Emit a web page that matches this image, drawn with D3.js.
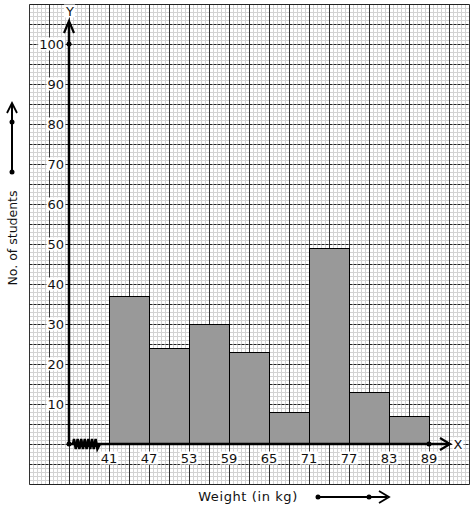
<!DOCTYPE html>
<html>
<head>
<meta charset="utf-8">
<script src="https://cdn.jsdelivr.net/npm/d3@7"></script>
<style>
  body { margin: 0; background: #fff; }
  text { font-family: "DejaVu Sans", sans-serif; fill: #111; }
</style>
</head>
<body>
<div class="container"></div>
<script>
// histogram data: class intervals (kg) and frequency
var lowerBounds = [41, 47, 53, 59, 65, 71, 77, 83];
var upperBounds = [47, 53, 59, 65, 71, 77, 83, 89];
var students = [37, 24, 30, 23, 8, 49, 13, 7];
var xTickLabels = [41, 47, 53, 59, 65, 71, 77, 83, 89];
var yTickLabels = [10, 20, 30, 40, 50, 60, 70, 80, 90, 100];

var svgWidth = 474;
var svgHeight = 510;

var svg = d3.select(".container")
  .append("svg")
  .attr("width", svgWidth)
  .attr("height", svgHeight);

// scales: 6 kg = 40px, 10 students = 40px, origin at (69,444)
var x = d3.scaleLinear().domain([35, 89]).range([69, 429]);
var y = d3.scaleLinear().domain([0, 100]).range([444, 44]);

var g = svg.append("g").attr("transform", "translate(0.5,0.5)");

//********************* graph paper grid *********************
var gx0 = 29, gx1 = 95, gy0 = -10, gy1 = 110;

// minor lines (every 0.6 kg / every 1 student)
var minorX = d3.range(0, 111).map(i => gx0 + i * 0.6);
var minorY = d3.range(0, 121).map(i => gy0 + i);

g.append("g").selectAll("line")
  .data(minorX).enter().append("line")
  .attr("x1", d => Math.round(x(d))).attr("x2", d => Math.round(x(d)))
  .attr("y1", y(gy1)).attr("y2", y(gy0))
  .attr("stroke", "#d2d2d2").attr("stroke-width", 1);

g.append("g").selectAll("line")
  .data(minorY).enter().append("line")
  .attr("y1", d => Math.round(y(d))).attr("y2", d => Math.round(y(d)))
  .attr("x1", x(gx0)).attr("x2", x(gx1))
  .attr("stroke", "#d2d2d2").attr("stroke-width", 1);

// major lines (every 3 kg / every 5 students)
var majorX = d3.range(0, 23).map(i => gx0 + i * 3);
var majorY = d3.range(0, 25).map(i => gy0 + i * 5);

g.append("g").selectAll("line")
  .data(majorX).enter().append("line")
  .attr("x1", d => Math.round(x(d))).attr("x2", d => Math.round(x(d)))
  .attr("y1", y(gy1)).attr("y2", y(gy0))
  .attr("stroke", "#333").attr("stroke-width", 1);

g.append("g").selectAll("line")
  .data(majorY).enter().append("line")
  .attr("y1", d => Math.round(y(d))).attr("y2", d => Math.round(y(d)))
  .attr("x1", x(gx0)).attr("x2", x(gx1))
  .attr("stroke", "#222").attr("stroke-width", 1)
  .attr("stroke-dasharray", (d, i) => (i === 0 || i === 24) ? null : "3,1");

//********************* bars *********************
g.append("g").selectAll("rect")
  .data(students).enter().append("rect")
  .attr("x", (d, i) => x(lowerBounds[i]))
  .attr("y", d => y(d))
  .attr("width", (d, i) => x(upperBounds[i]) - x(lowerBounds[i]))
  .attr("height", d => y(0) - y(d))
  .attr("fill", "#999")
  .attr("stroke", "#000")
  .attr("stroke-width", 1);

//********************* axes *********************
var axes = svg.append("g");

// y axis with arrow
axes.append("line")
  .attr("x1", x(35)).attr("x2", x(35))
  .attr("y1", y(0)).attr("y2", 22)
  .attr("stroke", "#000").attr("stroke-width", 2.5);
axes.append("path")
  .attr("d", `M${x(35) - 5},33 L${x(35)},21 L${x(35) + 5},33`)
  .attr("fill", "none").attr("stroke", "#000").attr("stroke-width", 2.2);

// x axis with arrow
axes.append("line")
  .attr("x1", x(35)).attr("x2", 449)
  .attr("y1", y(0)).attr("y2", y(0))
  .attr("stroke", "#000").attr("stroke-width", 2.5);
axes.append("path")
  .attr("d", `M440,${y(0) - 6} L450,${y(0)} L440,${y(0) + 6}`)
  .attr("fill", "none").attr("stroke", "#000").attr("stroke-width", 2.2);

// kink (broken axis) between origin and 41
var kink = [[x(35) + 4, y(0)]];
for (var k = 0; k < 14; k++) {
  kink.push([x(35) + 5 + k * 1.8, y(0) + (k % 2 === 0 ? -5 : 5)]);
}
kink.push([x(35) + 31, y(0)]);
axes.append("path")
  .attr("d", d3.line()(kink))
  .attr("fill", "none").attr("stroke", "#000").attr("stroke-width", 2.5);

// dots
axes.selectAll("circle.pt")
  .data([[x(35), y(0)], [x(35), y(100)], [x(89), y(0)]])
  .enter().append("circle")
  .attr("cx", d => d[0]).attr("cy", d => d[1])
  .attr("r", 2.5).attr("fill", "#000");

//********************* tick labels with white backgrounds *********************
function labelWithBg(parent, tx, ty, str, anchor) {
  var grp = parent.append("g");
  var rect = grp.append("rect").attr("fill", "#fff");
  var t = grp.append("text")
    .attr("x", tx).attr("y", ty)
    .attr("text-anchor", anchor)
    .attr("dominant-baseline", "central")
    .style("font-size", "13px")
    .text(str);
  var b = t.node().getBBox();
  rect.attr("x", b.x - 1).attr("y", b.y + 1)
    .attr("width", b.width + 2).attr("height", b.height - 2);
  return grp;
}

var tickLayer = svg.append("g");
xTickLabels.forEach(function(v) {
  labelWithBg(tickLayer, x(v), 458, v, "middle");
});
yTickLabels.forEach(function(v) {
  labelWithBg(tickLayer, x(35) - 5, y(v), v, "end");
});
labelWithBg(tickLayer, x(35) + 1, 11, "Y", "middle");
labelWithBg(tickLayer, 458, y(0), "X", "middle");

//********************* axis titles *********************
svg.append("text")
  .attr("transform", "translate(17,238) rotate(-90)")
  .attr("text-anchor", "middle")
  .style("font-size", "12.5px")
  .text("No. of students");

svg.append("text")
  .attr("x", 248).attr("y", 501)
  .attr("text-anchor", "middle")
  .style("font-size", "13px")
  .style("letter-spacing", "0.6px")
  .text("Weight (in kg)");

// direction arrows beside titles
var deco = svg.append("g");
deco.append("line").attr("x1", 12).attr("x2", 12).attr("y1", 172).attr("y2", 104)
  .attr("stroke", "#000").attr("stroke-width", 2);
deco.append("path").attr("d", "M7,113 L12,103 L17,113")
  .attr("fill", "none").attr("stroke", "#000").attr("stroke-width", 1.8);
deco.append("line").attr("x1", 318).attr("x2", 387).attr("y1", 497).attr("y2", 497)
  .attr("stroke", "#000").attr("stroke-width", 2);
deco.append("path").attr("d", "M379,491 L389,497 L379,503")
  .attr("fill", "none").attr("stroke", "#000").attr("stroke-width", 1.8);
deco.selectAll("circle")
  .data([[12, 122], [12, 172], [318, 497], [369, 497]])
  .enter().append("circle")
  .attr("cx", d => d[0]).attr("cy", d => d[1])
  .attr("r", 2.5).attr("fill", "#000");
</script>
</body>
</html>
